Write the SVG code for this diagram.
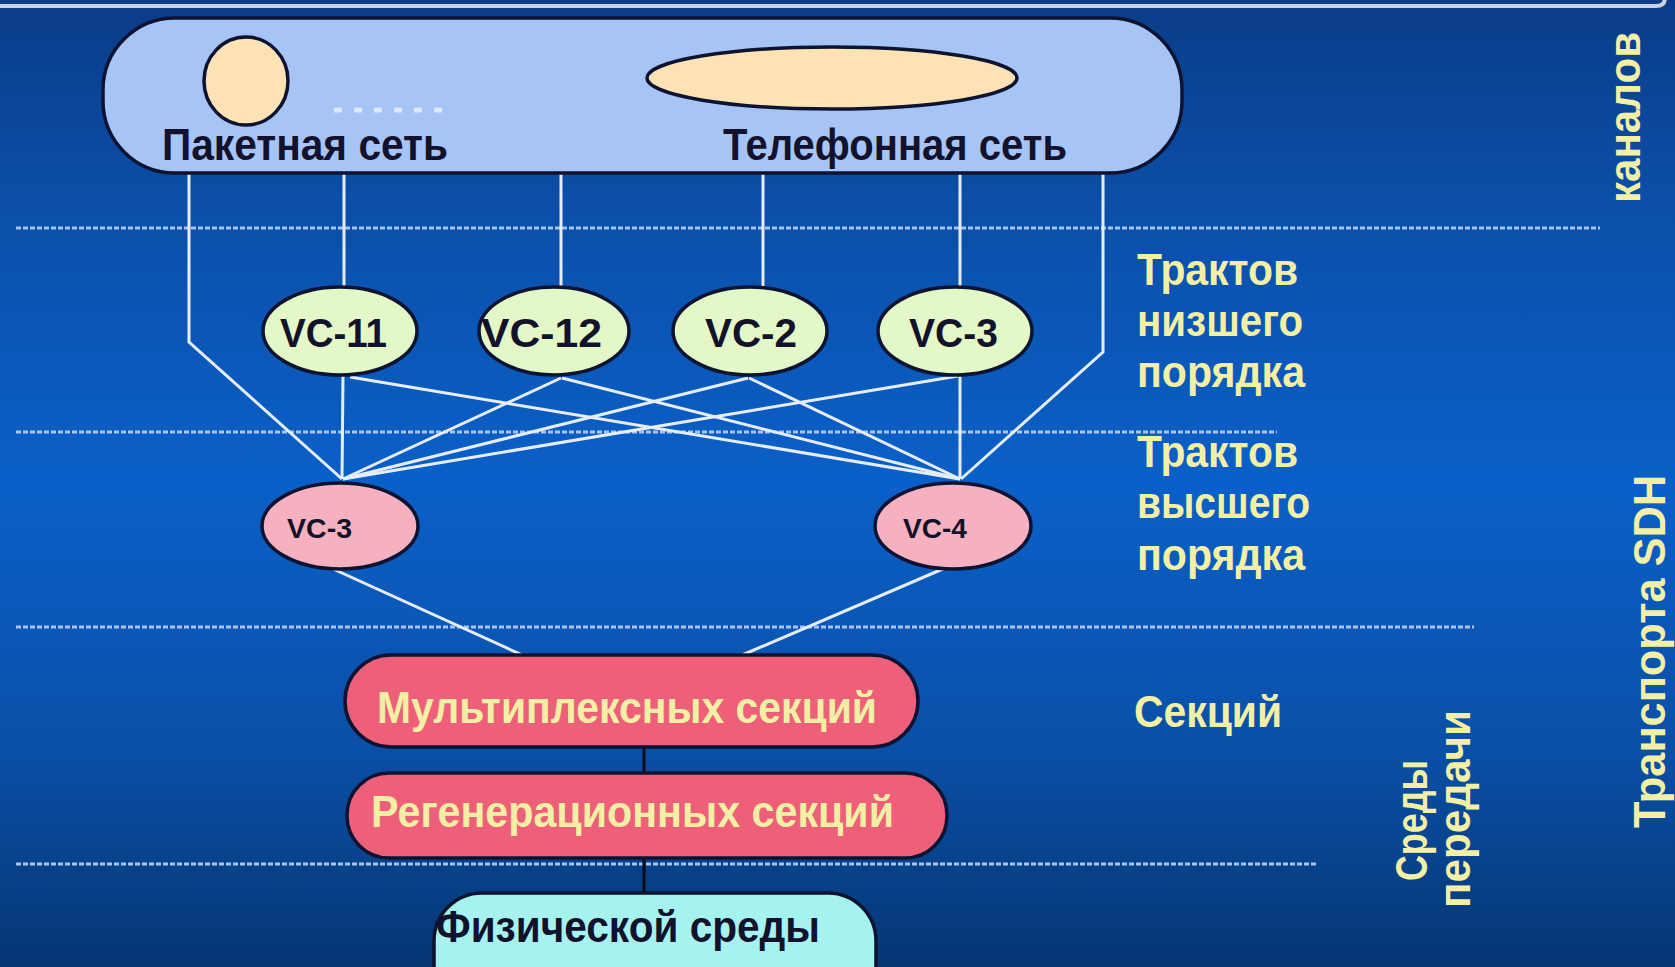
<svg xmlns="http://www.w3.org/2000/svg" width="1675" height="967" viewBox="0 0 1675 967">
  <defs>
    <linearGradient id="bg" x1="0" y1="0" x2="0" y2="1">
      <stop offset="0" stop-color="#0a3c88"/>
      <stop offset="0.2" stop-color="#0b4ea6"/>
      <stop offset="0.5" stop-color="#0a60c9"/>
      <stop offset="0.78" stop-color="#0a4fa6"/>
      <stop offset="1" stop-color="#053673"/>
    </linearGradient>
    <style>
      .t { font-family: "Liberation Sans", Arial, sans-serif; font-weight: bold; }
      .dk { fill: #12122c; }
      .yl { fill: #f3f0a6; }
      .edge { stroke: #0d1330; stroke-width: 3.5; }
      .dash { stroke: #a9c3ef; stroke-width: 3; stroke-dasharray: 5 2; fill: none; }
      .wl { stroke: #e6edf9; stroke-width: 3; fill: none; }
      .bl { stroke: #0a0a14; stroke-width: 3; fill: none; }
    </style>
  </defs>

  <rect x="0" y="0" width="1675" height="967" fill="url(#bg)"/>
  <path d="M0,6 H1656 Q1665,6 1665,-2" fill="none" stroke="#c9d2e2" stroke-width="4"/>

  <!-- layer separators -->
  <g id="separators">
    <line class="dash" x1="16" y1="228" x2="1600" y2="228"/>
    <line class="dash" x1="16" y1="432" x2="1277" y2="432"/>
    <line class="dash" x1="16" y1="627" x2="1474" y2="627"/>
    <line class="dash" x1="16" y1="864" x2="1318" y2="864"/>
  </g>

  <!-- connectors -->
  <g id="connectors">
    <polyline class="wl" points="189,173 189,342 342,479"/>
    <polyline class="wl" points="1103,173 1103,352 961,479"/>
    <line class="wl" x1="344" y1="173" x2="344" y2="288"/>
    <line class="wl" x1="561" y1="173" x2="561" y2="287"/>
    <line class="wl" x1="763" y1="173" x2="763" y2="287"/>
    <line class="wl" x1="960" y1="173" x2="960" y2="288"/>
    <line class="wl" x1="343" y1="376" x2="342" y2="479"/>
    <line class="wl" x1="350" y1="377" x2="960" y2="479"/>
    <line class="wl" x1="561" y1="378" x2="343" y2="479"/>
    <line class="wl" x1="562" y1="378" x2="960" y2="479"/>
    <line class="wl" x1="748" y1="378" x2="343" y2="479"/>
    <line class="wl" x1="749" y1="378" x2="960" y2="479"/>
    <line class="wl" x1="958" y1="376" x2="343" y2="479"/>
    <line class="wl" x1="960" y1="376" x2="960" y2="479"/>
    <line class="wl" x1="331" y1="568" x2="531" y2="659"/>
    <line class="wl" x1="945" y1="568" x2="733" y2="659"/>
    <line class="bl" x1="644" y1="747" x2="644" y2="774"/>
    <line class="bl" x1="644" y1="858" x2="644" y2="894"/>
  </g>

  <g id="channels">
    <rect x="103" y="18" width="1079" height="155" rx="72" fill="#a7c4f7" class="edge"/>
    <ellipse cx="246" cy="81" rx="42" ry="44" fill="#fde3b4" class="edge"/>
    <line x1="334" y1="110" x2="446" y2="110" stroke="#dfe8fb" stroke-width="5" stroke-dasharray="8 12"/>
    <ellipse cx="832" cy="78" rx="185" ry="31" fill="#fde3b4" class="edge"/>
    <text class="t dk" x="162" y="160" font-size="44" textLength="286" lengthAdjust="spacingAndGlyphs">Пакетная сеть</text>
    <text class="t dk" x="723" y="160" font-size="44" textLength="344" lengthAdjust="spacingAndGlyphs">Телефонная сеть</text>
  </g>

  <g id="vc11">
    <ellipse cx="340" cy="331" rx="77" ry="44" fill="#e3f8c6" class="edge"/>
    <text class="t dk" x="280" y="347" font-size="40" textLength="107" lengthAdjust="spacingAndGlyphs">VC-11</text>
  </g>
  <g id="vc12">
    <ellipse cx="554" cy="331" rx="75" ry="44" fill="#e3f8c6" class="edge"/>
    <text class="t dk" x="481" y="347" font-size="40" textLength="121" lengthAdjust="spacingAndGlyphs">VC-12</text>
  </g>
  <g id="vc2">
    <ellipse cx="750" cy="331" rx="77" ry="44" fill="#e3f8c6" class="edge"/>
    <text class="t dk" x="705" y="347" font-size="40" textLength="92" lengthAdjust="spacingAndGlyphs">VC-2</text>
  </g>
  <g id="vc3">
    <ellipse cx="955" cy="331" rx="77" ry="44" fill="#e3f8c6" class="edge"/>
    <text class="t dk" x="909" y="347" font-size="40" textLength="89" lengthAdjust="spacingAndGlyphs">VC-3</text>
  </g>

  <g id="vc3-high">
    <ellipse cx="340" cy="526" rx="78" ry="43" fill="#f6b1c0" class="edge"/>
    <text class="t dk" x="287" y="538" font-size="28" textLength="65" lengthAdjust="spacingAndGlyphs">VC-3</text>
  </g>
  <g id="vc4-high">
    <ellipse cx="953" cy="526" rx="78" ry="43" fill="#f6b1c0" class="edge"/>
    <text class="t dk" x="903" y="538" font-size="28" textLength="64" lengthAdjust="spacingAndGlyphs">VC-4</text>
  </g>

  <g id="mux-section">
    <rect x="345" y="655" width="573" height="92" rx="46" fill="#ee607a" class="edge"/>
    <text class="t yl" x="377" y="723" font-size="44" textLength="500" lengthAdjust="spacingAndGlyphs">Мультиплексных секций</text>
  </g>
  <g id="regen-section">
    <rect x="347" y="773" width="600" height="85" rx="42" fill="#ee607a" class="edge"/>
    <text class="t yl" x="371" y="827" font-size="44" textLength="523" lengthAdjust="spacingAndGlyphs">Регенерационных секций</text>
  </g>
  <g id="physical">
    <rect x="434" y="893" width="442" height="120" rx="48" fill="#a6f2ef" class="edge"/>
    <text class="t dk" x="436" y="942" font-size="44" textLength="384" lengthAdjust="spacingAndGlyphs">Физической среды</text>
  </g>

  <g id="layer-labels" class="t yl" font-size="45">
    <text x="1137" y="285" textLength="161" lengthAdjust="spacingAndGlyphs">Трактов</text>
    <text x="1137" y="336" textLength="166" lengthAdjust="spacingAndGlyphs">низшего</text>
    <text x="1137" y="387" textLength="168" lengthAdjust="spacingAndGlyphs">порядка</text>
    <text x="1137" y="467" textLength="161" lengthAdjust="spacingAndGlyphs">Трактов</text>
    <text x="1137" y="518" textLength="173" lengthAdjust="spacingAndGlyphs">высшего</text>
    <text x="1137" y="570" textLength="168" lengthAdjust="spacingAndGlyphs">порядка</text>
    <text x="1134" y="727" textLength="148" lengthAdjust="spacingAndGlyphs">Секций</text>
  </g>

  <g id="side-labels" class="t yl" font-size="45">
    <text transform="translate(1640,203) rotate(-90)" textLength="171" lengthAdjust="spacingAndGlyphs">каналов</text>
    <text transform="translate(1665,828) rotate(-90)" textLength="353" lengthAdjust="spacingAndGlyphs">Транспорта SDH</text>
    <text transform="translate(1427,881) rotate(-90)" textLength="121" lengthAdjust="spacingAndGlyphs">Среды</text>
    <text transform="translate(1470,908) rotate(-90)" textLength="198" lengthAdjust="spacingAndGlyphs">передачи</text>
  </g>
</svg>
